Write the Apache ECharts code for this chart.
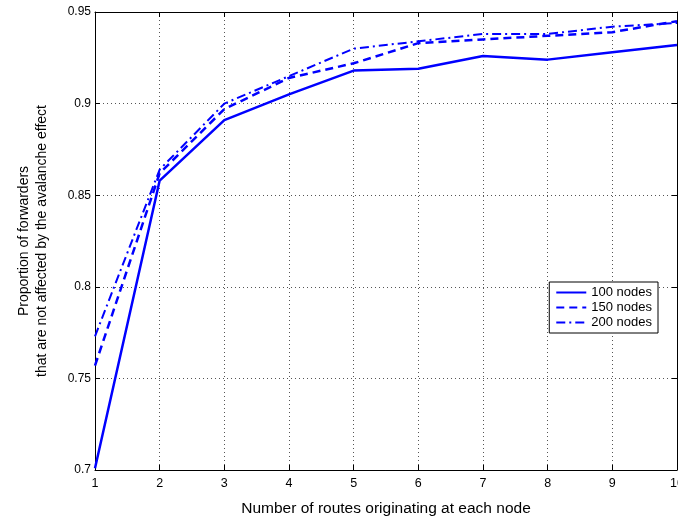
<!DOCTYPE html>
<html>
<head>
<meta charset="utf-8">
<script src="https://cdn.jsdelivr.net/npm/echarts@6/dist/echarts.min.js"></script>
<style>html,body{margin:0;padding:0;background:#fff;}#c{width:678px;height:522px;}</style>
</head>
<body>
<div id="c"></div>
<script>
var xValues = [1, 2, 3, 4, 5, 6, 7, 8, 9, 10];
var nodes100 = [0.701, 0.858, 0.891, 0.905, 0.918, 0.919, 0.926, 0.924, 0.928, 0.932];
var nodes150 = [0.757, 0.862, 0.897, 0.914, 0.922, 0.933, 0.935, 0.937, 0.939, 0.945];
var nodes200 = [0.773, 0.864, 0.900, 0.915, 0.930, 0.934, 0.938, 0.938, 0.942, 0.944];
var seriesNames = ['100 nodes', '150 nodes', '200 nodes'];
var xTitle = 'Number of routes originating at each node';
var yTitle = 'Proportion of forwarders\nthat are not affected by the avalanche effect';

function pairs(arr) { return xValues.map(function (x, i) { return [x, arr[i]]; }); }

var font = 'Liberation Sans, Arial, sans-serif';
var chart = echarts.init(document.getElementById('c'), null, {renderer: 'canvas'});
var gridLine = {show: true, lineStyle: {color: '#555', type: [1, 3], width: 1}};
var axLine = {show: true, onZero: false, lineStyle: {color: '#000', width: 1}};
var tick = {show: true, inside: true, length: 5, lineStyle: {color: '#000'}};
var blue = '#0000FF';

chart.setOption({
  animation: false,
  backgroundColor: '#fff',
  grid: {left: 95, right: 1, top: 12, bottom: 52, containLabel: false, outerBoundsMode: 'none'},
  legend: {
    right: 20, top: 282, orient: 'vertical',
    data: seriesNames,
    itemWidth: 30, itemHeight: 10, itemGap: 2,
    padding: [4, 6, 4, 6],
    borderColor: '#000', borderWidth: 1, backgroundColor: '#fff',
    itemStyle: {opacity: 0},
    textStyle: {fontFamily: font, fontSize: 13, color: '#000'}
  },
  xAxis: [{
    type: 'value', min: 1, max: 10, interval: 1,
    name: xTitle, nameLocation: 'middle', nameGap: 31,
    nameTextStyle: {fontFamily: font, fontSize: 15.5, color: '#000'},
    axisLine: axLine, axisTick: tick, splitLine: gridLine,
    axisLabel: {fontFamily: font, fontSize: 12.5, color: '#000', margin: 7}
  }, {
    type: 'value', min: 1, max: 10, interval: 1, position: 'top',
    axisLine: axLine, axisTick: tick, axisLabel: {show: false}, splitLine: {show: false}
  }],
  yAxis: [{
    type: 'value', min: 0.7, max: 0.95, interval: 0.05,
    name: yTitle, nameLocation: 'middle', nameGap: 44,
    nameTextStyle: {fontFamily: font, fontSize: 14, color: '#000', lineHeight: 18},
    axisLine: axLine, axisTick: tick, splitLine: gridLine,
    axisLabel: {fontFamily: font, fontSize: 12, color: '#000', margin: 4,
      formatter: function (v) { return String(Math.round(v * 100) / 100); }}
  }, {
    type: 'value', min: 0.7, max: 0.95, interval: 0.05, position: 'right',
    axisLine: axLine, axisTick: tick, axisLabel: {show: false}, splitLine: {show: false}
  }],
  series: [
    {name: seriesNames[0], type: 'line', data: pairs(nodes100), symbol: 'none', color: blue,
      lineStyle: {color: blue, width: 2.5, type: 'solid'}},
    {name: seriesNames[1], type: 'line', data: pairs(nodes150), symbol: 'none', color: blue,
      lineStyle: {color: blue, width: 2.5, type: [8, 5]}},
    {name: seriesNames[2], type: 'line', data: pairs(nodes200), symbol: 'none', color: blue,
      lineStyle: {color: blue, width: 2, type: [9, 4, 2, 4]}}
  ]
});
</script>
</body>
</html>
